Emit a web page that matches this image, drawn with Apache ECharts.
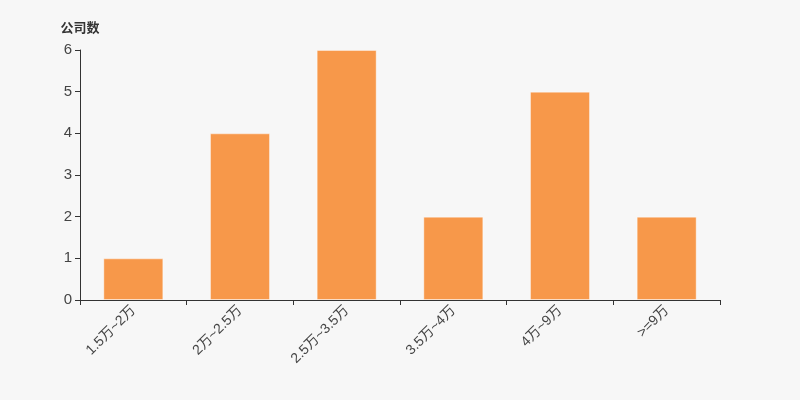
<!DOCTYPE html>
<html>
<head>
<meta charset="utf-8">
<script src="https://cdn.jsdelivr.net/npm/echarts@6/dist/echarts.min.js"></script>
<style>
  html, body { margin: 0; padding: 0; background: #f7f7f7; }
  #chart { width: 800px; height: 400px; }
</style>
</head>
<body>
<div id="chart"></div>
<script>
const categories = ["1.5万~2万", "2万~2.5万", "2.5万~3.5万", "3.5万~4万", "4万~9万", ">=9万"];
const companyCounts = [1, 4, 6, 2, 5, 2];

const chart = echarts.init(document.getElementById("chart"));
chart.setOption({
  backgroundColor: "#f7f7f7",
  animation: false,
  textStyle: { fontFamily: "Liberation Sans, Arial, Noto Sans CJK SC, sans-serif" },
  grid: { left: 80, right: 80, top: 50, bottom: 100 },
  xAxis: {
    type: "category",
    data: categories,
    axisLine: { lineStyle: { color: "#333" } },
    axisTick: { show: true, lineStyle: { color: "#333" } },
    axisLabel: { interval: 0, rotate: 45, color: "#444", fontSize: 14, margin: 8 },
  },
  yAxis: {
    type: "value",
    name: "公司数",
    min: 0,
    max: 6,
    interval: 1,
    nameTextStyle: { color: "#333", fontWeight: "bold", fontSize: 13 },
    nameGap: 15,
    axisLine: { show: true, lineStyle: { color: "#333" } },
    axisTick: { show: true, lineStyle: { color: "#333" } },
    axisLabel: { color: "#444", fontSize: 15 },
    splitLine: { show: false },
  },
  series: [
    {
      type: "bar",
      data: companyCounts,
      barWidth: 60,
      itemStyle: {
        color: "#f7984a",
        borderColor: "rgba(255,255,255,0.4)",
        borderWidth: 1,
      },
    },
  ],
});
</script>
</body>
</html>
